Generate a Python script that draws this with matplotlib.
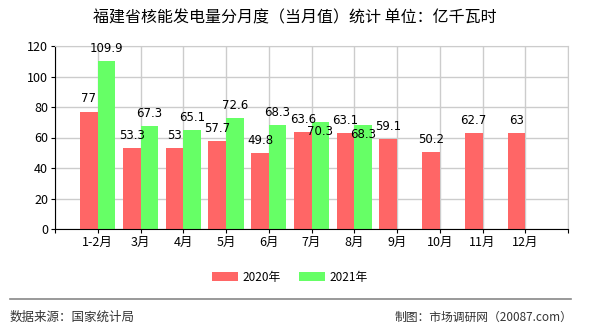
import matplotlib.pyplot as plt
import numpy as np

plt.rcParams['font.family'] = ['Noto Sans CJK SC', 'DejaVu Sans']

months = ['1-2月', '3月', '4月', '5月', '6月', '7月', '8月', '9月', '10月', '11月', '12月']
values_2020 = [77, 53.3, 53, 57.7, 49.8, 63.6, 63.1, 59.1, 50.2, 62.7, 63]
values_2021 = [109.9, 67.3, 65.1, 72.6, 68.3, 70.3, 68.3]

red = '#ff6666'
green = '#66ff66'

fig = plt.figure(figsize=(5.9, 3.3), dpi=100)
ax = fig.add_axes([55 / 590, 1 - 229 / 330, 513 / 590, 183 / 330])

x = np.arange(1, len(months) + 1)
w = 0.41
ax.bar(x - w / 2, values_2020, w, color=red, label='2020年', zorder=2)
x21 = x[:len(values_2021)]
ax.bar(x21 + w / 2, values_2021, w, color=green, label='2021年', zorder=2)


def fmt(v):
    return f'{v:g}'


for xi, v in zip(x, values_2020):
    ax.text(xi - w / 2, v + 4, fmt(v), ha='center', va='bottom', fontsize=8.5,
            family='DejaVu Sans', zorder=3)
for i, (xi, v) in enumerate(zip(x21, values_2021)):
    # push the label into the bar top when it would collide with the 2020 label
    if v - values_2020[i] < 10:
        ax.text(xi + w / 2, v - 2, fmt(v), ha='center', va='top', fontsize=8.5,
                family='DejaVu Sans', zorder=3)
    else:
        ax.text(xi + w / 2, v + 4, fmt(v), ha='center', va='bottom', fontsize=8.5,
                family='DejaVu Sans', zorder=3)

ax.set_xlim(0, 12)
ax.set_ylim(0, 120)
ax.set_xticks(np.arange(0, 13))
ax.set_xticklabels([''] + months + [''], fontsize=9)
ax.set_yticks(np.arange(0, 121, 20))
ax.tick_params(axis='y', labelsize=9, length=3, pad=2)
ax.tick_params(axis='x', length=3, pad=2)
ax.grid(True, color='#cccccc', linewidth=1, zorder=0)
for s in ['top', 'right']:
    ax.spines[s].set_color('#cccccc')
for s in ['left', 'bottom']:
    ax.spines[s].set_color('black')

fig.text(0.5, 1 - 18 / 330, '福建省核能发电量分月度（当月值）统计 单位：亿千瓦时',
         ha='center', va='center', fontsize=11.5)

fig.legend(loc='center', bbox_to_anchor=(290 / 590, 1 - 277 / 330), ncol=2,
           frameon=False, fontsize=8.5, handlelength=2.2, handleheight=0.9,
           columnspacing=1.5, handletextpad=0.4)

fig.add_artist(plt.Line2D([10 / 590, 571 / 590], [1 - 298.5 / 330] * 2,
                          color='#888888', linewidth=1.2))
fig.text(10 / 590, 1 - 317 / 330, '数据来源：国家统计局', ha='left', va='center',
         fontsize=9, color='#333333')
fig.text(572 / 590, 1 - 317 / 330, '制图：市场调研网（20087.com）', ha='right',
         va='center', fontsize=8.5, color='#333333')

fig.savefig('out.png', dpi=100)
